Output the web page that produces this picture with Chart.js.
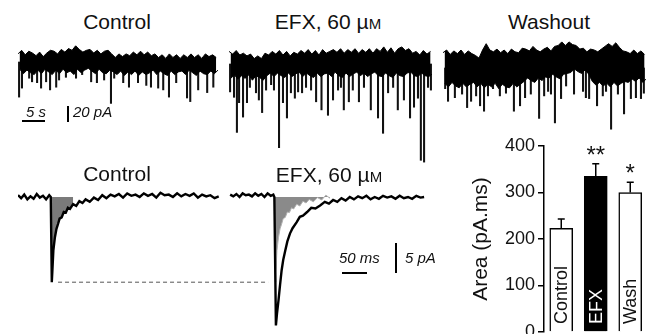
<!DOCTYPE html>
<html>
<head>
<meta charset="utf-8">
<script src="https://cdn.jsdelivr.net/npm/chart.js@4.4.1/dist/chart.umd.min.js"></script>
<style>
  body { margin: 0; background: #fff; }
  #fig { position: relative; width: 656px; height: 334px; overflow: hidden;
         font-family: "Liberation Sans", Arial, Helvetica, sans-serif; color: #111; }
  #fig canvas { position: absolute; }
  .lbl { position: absolute; width: 130px; text-align: center; white-space: nowrap;
         font-size: 21px; line-height: 24px; }
  .lbl small { font-size: 15px; }
  .sc { position: absolute; white-space: nowrap; font-size: 15px; line-height: 18px; font-style: italic; }
  .bar { position: absolute; background: #000; }
</style>
</head>
<body>
<div id="fig">
  <div class="lbl" style="left:52px;top:10px">Control</div>
  <div class="lbl" style="left:263px;top:10px">EFX, 60 µ<small>M</small></div>
  <div class="lbl" style="left:484px;top:10px">Washout</div>

  <canvas id="tr-ctrl" width="200" height="144" style="left:18px;top:35px"></canvas>
  <canvas id="tr-efx" width="203" height="144" style="left:229px;top:37px"></canvas>
  <canvas id="tr-wash" width="203" height="144" style="left:443px;top:41px"></canvas>

  <div class="sc" style="left:26px;top:103px">5 s</div>
  <div class="bar" style="left:22px;top:120px;width:23px;height:2px"></div>
  <div class="bar" style="left:67px;top:106px;width:2px;height:16px"></div>
  <div class="sc" style="left:73px;top:103px">20 pA</div>

  <div class="lbl" style="left:52px;top:162px">Control</div>
  <div class="lbl" style="left:264px;top:163px">EFX, 60 µ<small>M</small></div>

  <canvas id="epsc" width="420" height="156" style="left:18px;top:185px"></canvas>

  <div class="sc" style="left:339px;top:249px">50 ms</div>
  <div class="bar" style="left:342px;top:272px;width:25px;height:2px"></div>
  <div class="bar" style="left:395px;top:243px;width:2px;height:30px"></div>
  <div class="sc" style="left:405px;top:249px">5 pA</div>

  <canvas id="area" width="216" height="240" style="left:440px;top:120px"></canvas>
</div>

<script>
const FONT = '"Liberation Sans", Arial, Helvetica, sans-serif';

// --- continuous recordings: noise envelope sampled every second (pA), spikes = sEPSCs
const SWEEP_STEP_S = 1;

const CTRL_TOP = [9, 13, 8, 12, 10, 7, 11, 6, 10, 13, 12, 9, 14, 11, 15, 13, 18, 14, 11, 13,
  14, 10, 13, 9, 12, 13, 9, 5, 9, 6, 9, 7, 11, 8, 12, 8, 11, 7, 9, 5,
  8, 4, 9, 5, 8, 4, 8, 5, 9, 5, 8, 4, 9, 6, 8, 5];
const CTRL_BOTTOM = [-8, -13, -9, -12, -14, -9, -13, -8, -11, -14, -9, -13, -8, -12, -10, -14, -8, -12, -9, -7,
  -10, -13, -8, -12, -13, -9, -11, -14, -10, -15, -11, -14, -10, -15, -11, -14, -12, -9, -14, -10,
  -13, -15, -10, -14, -11, -10, -14, -9, -12, -15, -10, -13, -14, -10, -13, -9];
const CTRL_SPIKE_T = [0.3, 1.1, 3.1, 3.9, 5.3, 6.4, 7.8, 8.9, 10.6, 11.4, 13.3, 16.1, 17.8, 20.3, 21.9, 23.9,
  25.8, 26.7, 29.2, 30.8, 33.3, 35.6, 36.9, 38.9, 40.3, 41.9, 43.9, 46.9, 47.8, 50.0, 52.5, 54.2];
const CTRL_SPIKE_A = [-39, -29, -18, -22, -23, -29, -22, -31, -28, -20, -17, -18, -14, -22, -23, -20,
  -46, -18, -23, -28, -23, -26, -28, -29, -31, -39, -23, -40, -44, -31, -34, -28];

const EFX_TOP = [14, 11, 15, 10, 12, 9, 11, 6, 9, 6, 12, 10, 14, 11, 15, 10, 14, 9, 13, 11,
  15, 12, 16, 11, 15, 10, 16, 12, 14, 16, 13, 17, 12, 16, 13, 17, 12, 16, 13, 17,
  12, 17, 14, 19, 13, 18, 12, 17, 19, 15, 17, 12, 14, 10, 15, 11, 14];
const EFX_BOTTOM = [-16, -12, -17, -13, -16, -12, -18, -13, -15, -18, -13, -10, -14, -10, -13, -15, -10, -14, -11, -9,
  -14, -10, -13, -15, -10, -14, -11, -10, -14, -9, -13, -15, -10, -14, -11, -9, -13, -10, -14, -11,
  -9, -13, -14, -10, -13, -15, -10, -13, -14, -10, -9, -13, -14, -10, -13, -14, -11];
const EFX_SPIKE_T = [0.3, 1.4, 2.2, 2.8, 3.9, 5.0, 5.8, 7.5, 8.3, 9.2, 10.3, 11.7, 12.5, 13.9, 15.0, 16.1,
  17.2, 18.3, 19.2, 20.3, 21.4, 22.8, 24.2, 25.7, 27.5, 28.9, 30.3, 31.1, 31.9, 33.3, 34.4, 36.1,
  37.5, 39.4, 41.4, 42.8, 44.2, 45.6, 46.9, 48.6, 50.3, 51.4, 52.5, 53.3, 54.2, 55.3, 56.1];
const EFX_SPIKE_A = [-31, -37, -76, -43, -59, -43, -26, -32, -40, -54, -29, -23, -29, -93, -43, -60,
  -32, -38, -31, -32, -26, -29, -42, -51, -57, -40, -29, -26, -51, -42, -29, -42,
  -26, -51, -60, -77, -32, -26, -51, -40, -60, -48, -38, -107, -109, -26, -29];

const WASH_TOP = [17, 20, 15, 19, 16, 20, 15, 19, 16, 14, 11, 20, 27, 20, 18, 21, 17, 20, 16, 21,
  18, 17, 22, 21, 19, 24, 20, 18, 21, 23, 19, 24, 25, 29, 25, 29, 26, 25, 21, 22,
  18, 21, 20, 18, 21, 24, 27, 24, 28, 23, 19, 18, 16, 20, 16, 19, 15];
const WASH_BOTTOM = [-17, -21, -16, -20, -22, -17, -21, -18, -16, -21, -17, -22, -18, -21, -17, -23, -18, -21, -22, -17,
  -21, -18, -15, -11, -14, -16, -11, -14, -10, -11, -7, -10, -12, -7, -6, -5, -1, -4, -6, -2,
  -7, -15, -19, -16, -20, -17, -21, -16, -20, -17, -15, -16, -12, -15, -11, -16, -12];
const WASH_SPIKE_T = [0.6, 1.4, 3.3, 5.3, 6.7, 7.8, 9.2, 10.3, 11.4, 12.5, 13.9, 15.8, 17.5, 19.7, 21.4, 22.8,
  24.4, 26.7, 28.1, 29.2, 30.0, 31.1, 32.8, 34.2, 36.4, 38.9, 39.7, 40.6, 42.8, 44.4, 45.3, 46.7,
  48.6, 50.3, 52.2, 53.6, 55.0, 55.8];
const WASH_SPIKE_A = [-23, -37, -33, -29, -44, -37, -31, -42, -48, -31, -23, -31, -28, -48, -42, -33,
  -29, -56, -31, -26, -29, -61, -34, -20, -29, -26, -33, -34, -42, -31, -26, -68,
  -29, -51, -34, -33, -34, -28];

// --- averaged sEPSCs (time in ms, current in pA)
const CTRL_EPSC_T = [0, 6, 12, 18, 24, 30, 36, 42, 48, 54, 60, 63, 65, 66, 68, 71, 74, 77, 80, 84,
  88, 92, 96, 100, 106, 112, 118, 124, 130, 138, 146, 154, 162, 170, 178, 186, 194, 202, 210, 218,
  226, 234, 242, 250, 258, 266, 274, 282, 290, 298, 306, 314, 322, 330, 338, 346, 354, 362, 370, 378, 386];
const CTRL_EPSC_I = [0.3, -0.2, 0.4, -0.4, 0.1, -0.3, 0.5, -0.1, 0.2, -0.4, 0.3, 0, -14.2, -12.5, -8.9, -6.7, -5.3, -4.5, -3.6, -3.4,
  -2.5, -2.6, -1.8, -2.0, -1.2, -1.5, -0.7, -1.0, -0.4, -0.8, -0.1, -0.5, 0.3, -0.2, 0.4, 0.1, 0.5, -0.1, 0.6, 0.2,
  0.4, 0, 0.6, 0.2, 0.5, -0.1, 0.7, 0.3, 0.4, 0, 0.6, 0.1, 0.5, 0.2, 0.6, -0.1, 0.4, 0.1, 0.3, -0.2, 0.1];
const EFX_EPSC_T = [0, 6, 12, 18, 24, 30, 36, 42, 48, 54, 60, 66, 72, 78, 83, 85, 88, 90, 93, 96,
  99, 102, 106, 110, 115, 120, 128, 134, 140, 148, 156, 164, 173, 182, 190, 198, 206, 214, 222, 230,
  238, 246, 254, 262, 270, 278, 286, 294, 302, 310, 318, 326, 334, 342, 350, 358, 366, 373];
const EFX_EPSC_I = [0.4, 0.1, 0.5, 0, 0.6, 0.3, 0.4, 0.1, 0.6, 0.2, 0.5, 0, 0.6, 0.2, 0.4, 0, -21.4, -19.5, -17.2, -14.6,
  -12.2, -10.5, -8.9, -7.4, -6.1, -5.2, -4.2, -3.3, -3.1, -2.5, -1.8, -1.9, -1.4, -0.8, -1.1, -0.5, -0.8, -0.2, -0.6, 0,
  -0.4, 0.1, -0.2, 0.2, -0.4, 0, -0.3, 0.2, -0.1, 0.1, -0.3, 0.2, -0.2, 0, -0.3, 0.2, -0.1, 0];

// --- charge (area) summary
const CONDITIONS = ["Control", "EFX", "Wash"];
const AREA_MEAN = [223, 335, 300];
const AREA_SEM = [20, 27, 22];
const AREA_SIG = ["", "**", "*"];
const BAR_FILL = ["#fff", "#000", "#fff"];

Chart.defaults.font.family = FONT;

const BASE = {
  responsive: false,
  animation: false,
  events: [],
  layout: { padding: 0 },
  plugins: { legend: { display: false }, tooltip: { enabled: false } },
};

function traceChart(id, top, bottom, spikeT, spikeA, tMax) {
  new Chart(document.getElementById(id), {
    type: "line",
    data: {
      datasets: [
        {
          type: "bar",
          data: spikeT.map((t, i) => ({ x: t, y: [0, spikeA[i]] })),
          backgroundColor: "#111",
          barThickness: 1.4,
          grouped: false,
          order: 2,
        },
        {
          // upper noise excursions, filled down to the lower ones
          data: top.map((v, i) => ({ x: i * SWEEP_STEP_S, y: v })),
          borderColor: "#000",
          borderWidth: 1,
          backgroundColor: "#000",
          fill: "+1",
          pointRadius: 0,
          order: 1,
        },
        {
          data: bottom.map((v, i) => ({ x: i * SWEEP_STEP_S + SWEEP_STEP_S / 2, y: v })),
          borderColor: "#000",
          borderWidth: 1,
          pointRadius: 0,
          order: 1,
        },
      ],
    },
    options: {
      ...BASE,
      scales: {
        x: { type: "linear", min: 0, max: tMax, offset: false, display: false },
        y: { min: -130, max: 30, display: false },
      },
    },
  });
}

traceChart("tr-ctrl", CTRL_TOP, CTRL_BOTTOM, CTRL_SPIKE_T, CTRL_SPIKE_A, 55.5);
traceChart("tr-efx", EFX_TOP, EFX_BOTTOM, EFX_SPIKE_T, EFX_SPIKE_A, 56.4);
traceChart("tr-wash", WASH_TOP, WASH_BOTTOM, WASH_SPIKE_T, WASH_SPIKE_A, 56.4);

// averaged events, both panels on one time axis
const EFX_OFFSET = 408; // ms, start of the EFX panel
const ALIGN_MS = 22; // shifts control onset onto EFX onset
const ctrlPts = CTRL_EPSC_T.map((t, i) => ({ x: t, y: CTRL_EPSC_I[i] }));
const efxPts = EFX_EPSC_T.map((t, i) => ({ x: t + EFX_OFFSET, y: EFX_EPSC_I[i] }));
const ctrlPeak = Math.min(...CTRL_EPSC_I);

new Chart(document.getElementById("epsc"), {
  type: "line",
  data: {
    datasets: [
      {
        data: ctrlPts.filter((p) => p.x >= 63 && p.x <= 106),
        borderWidth: 0,
        pointRadius: 0,
        backgroundColor: "#7a7a7a",
        fill: { value: 0 },
        order: 4,
      },
      {
        data: ctrlPts
          .filter((p) => p.x >= 63 && p.x <= 170)
          .map((p) => ({ x: p.x + ALIGN_MS + EFX_OFFSET, y: p.y })),
        borderColor: "#b0b0b0",
        borderWidth: 1,
        pointRadius: 0,
        backgroundColor: "#8a8a8a",
        fill: { value: 0 },
        order: 3,
      },
      {
        data: [{ x: 77, y: ctrlPeak }, { x: 481, y: ctrlPeak }],
        borderColor: "#555",
        borderWidth: 1,
        borderDash: [4, 3],
        pointRadius: 0,
        order: 2,
      },
      { data: ctrlPts, borderColor: "#000", borderWidth: 2.4, pointRadius: 0, order: 1 },
      { data: efxPts, borderColor: "#000", borderWidth: 2.4, pointRadius: 0, order: 1 },
    ],
  },
  options: {
    ...BASE,
    scales: {
      x: { type: "linear", min: 0, max: 807.7, display: false },
      y: { min: -24, max: 2, display: false },
    },
  },
});

const barDecor = {
  id: "barDecor",
  afterDatasetsDraw(chart) {
    const { ctx } = chart;
    const y = chart.scales.y;
    const meta = chart.getDatasetMeta(0);
    ctx.save();
    meta.data.forEach((bar, i) => {
      const top = y.getPixelForValue(AREA_MEAN[i] + AREA_SEM[i]);
      ctx.strokeStyle = "#000";
      ctx.lineWidth = 1.5;
      ctx.beginPath();
      ctx.moveTo(bar.x, bar.y);
      ctx.lineTo(bar.x, top);
      ctx.moveTo(bar.x - 3.5, top);
      ctx.lineTo(bar.x + 3.5, top);
      ctx.stroke();

      ctx.fillStyle = "#111";
      ctx.font = "24px " + FONT;
      ctx.textAlign = "center";
      ctx.textBaseline = "alphabetic";
      ctx.fillText(AREA_SIG[i], bar.x, top - 1);

      ctx.save();
      ctx.translate(bar.x, y.getPixelForValue(0) - 8);
      ctx.rotate(-Math.PI / 2);
      ctx.font = "18px " + FONT;
      ctx.textAlign = "left";
      ctx.textBaseline = "middle";
      ctx.fillStyle = BAR_FILL[i] === "#000" ? "#fff" : "#111";
      ctx.fillText(CONDITIONS[i], 0, 1);
      ctx.restore();
    });
    ctx.restore();
  },
};

new Chart(document.getElementById("area"), {
  type: "bar",
  data: {
    labels: CONDITIONS,
    datasets: [
      {
        data: AREA_MEAN,
        backgroundColor: BAR_FILL,
        borderColor: "#000",
        borderWidth: 1.5,
        barThickness: 23,
      },
    ],
  },
  options: {
    ...BASE,
    layout: { padding: { top: 26, bottom: 28, right: 8.5, left: 0 } },
    scales: {
      x: { display: false },
      y: {
        min: 0,
        max: 400,
        ticks: { stepSize: 100, color: "#111", font: { size: 18 }, padding: 3 },
        grid: { drawOnChartArea: false, drawTicks: true, tickLength: 6, color: "#000", lineWidth: 1.5 },
        border: { display: true, color: "#000", width: 1.5 },
        title: {
          display: true,
          text: "Area (pA.ms)",
          color: "#111",
          font: { size: 21 },
          padding: { top: 29, bottom: 0 },
        },
        afterFit(axis) {
          axis.width = 104;
        },
      },
    },
  },
  plugins: [barDecor],
});
</script>
</body>
</html>
